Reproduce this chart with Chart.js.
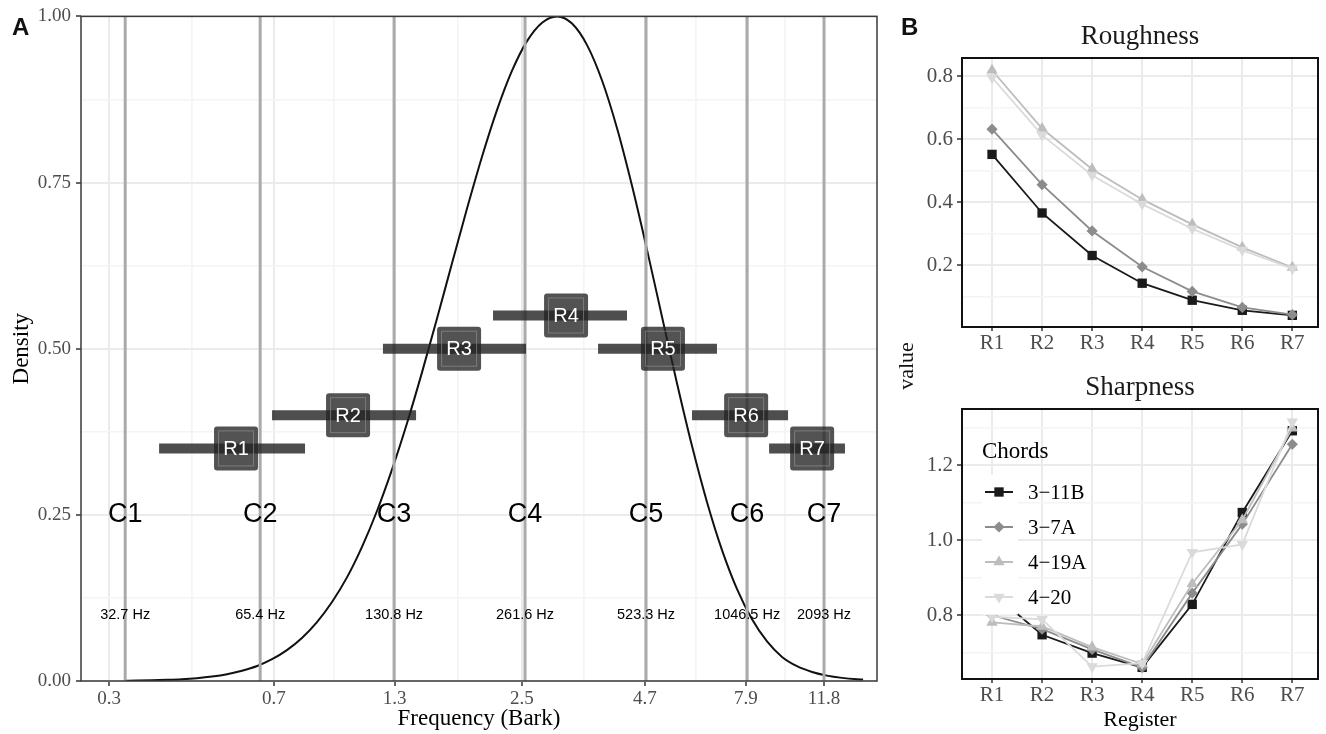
<!DOCTYPE html>
<html><head><meta charset="utf-8">
<script src="https://cdn.jsdelivr.net/npm/chart.js@4"></script>
<style>
body{margin:0;background:#fff;width:1326px;height:734px;overflow:hidden;position:relative;}
canvas{position:absolute;}
#cA{left:0;top:0;width:890px;height:734px;}
#cR{left:890px;top:0;width:436px;height:367px;}
#cS{left:890px;top:367px;width:436px;height:367px;}
.pl{position:absolute;font-family:'Liberation Sans',Arial,sans-serif;font-weight:bold;font-size:24px;line-height:1;color:#111;}
#val{position:absolute;left:906px;top:366px;transform:translate(-50%,-50%) rotate(-90deg);font-family:'Liberation Serif',serif;font-size:22px;line-height:1;color:#111;white-space:nowrap;}
</style></head><body>
<canvas id="cA" width="890" height="734"></canvas>
<canvas id="cR" width="436" height="367"></canvas>
<canvas id="cS" width="436" height="367"></canvas>
<div class="pl" style="left:12px;top:15px;">A</div>
<div class="pl" style="left:901px;top:15px;">B</div>
<div id="val">value</div>
<script>
// ---------------- Panel A data ----------------
const curveBark = [0.326,0.346,0.374,0.404,0.436,0.471,0.509,0.550,0.594,0.642,0.693,0.748,0.808,0.873,0.943,1.019,1.100,1.188,1.283,1.386,1.497,1.617,1.747,1.887,2.038,2.201,2.377,2.567,2.773,2.995,3.235,3.494,3.774,4.076,4.402,4.755,5.136,5.547,5.991,6.471,6.989,7.549,8.153,8.806,9.511,10.27,11.10,11.98,12.94,13.98,14.42];
const curveDensity = [0.0004,0.0006,0.0010,0.0017,0.0027,0.0043,0.0067,0.0102,0.0154,0.0226,0.0328,0.0465,0.0648,0.0886,0.1188,0.1563,0.2019,0.2558,0.3180,0.3879,0.4644,0.5455,0.6288,0.7112,0.7892,0.8594,0.9183,0.9628,0.9906,1.0000,0.9892,0.9568,0.9035,0.8317,0.7451,0.6487,0.5478,0.4477,0.3535,0.2690,0.1969,0.1382,0.0928,0.0595,0.0362,0.0223,0.0136,0.0081,0.0047,0.0026,0.0021];

const cLabels = ['C1','C2','C3','C4','C5','C6','C7'];
const cBark = [0.326,0.652,1.297,2.541,4.73,7.95,11.80];
const cHz = ['32.7 Hz','65.4 Hz','130.8 Hz','261.6 Hz','523.3 Hz','1046.5 Hz','2093 Hz'];
const cLabelLevel = 0.25;
const cHzLevel = 0.10;

const regLabels = ['R1','R2','R3','R4','R5','R6','R7'];
const regLow  = [0.388,0.693,1.225,2.156,3.697,5.99,8.90];
const regHigh = [0.821,1.452,2.554,4.29,6.81,9.81,13.14];
const regMid  = [0.576,1.024,1.811,3.137,5.16,7.91,11.10];
const regLevel = [0.35,0.40,0.50,0.55,0.50,0.40,0.35];

const xMajorA = [0.3,0.7,1.3,2.5,4.7,7.9,11.8];
const xMajorLabelsA = ['0.3','0.7','1.3','2.5','4.7','7.9','11.8'];
const xMinorA = [0.458,0.954,1.803,3.428,6.094,9.655];
const yMajorA = [0,0.25,0.5,0.75,1];
const yMajorLabelsA = ['0.00','0.25','0.50','0.75','1.00'];
const yMinorA = [0.125,0.375,0.625,0.875];

// ---------------- Panel B data ----------------
const registers = ['R1','R2','R3','R4','R5','R6','R7'];
const chordNames = ['3\u221211B','3\u22127A','4\u221219A','4\u221220'];
const rough3_11B = [0.552,0.366,0.231,0.143,0.089,0.057,0.041];
const rough3_7A  = [0.632,0.456,0.309,0.195,0.117,0.066,0.043];
const rough4_19A = [0.819,0.634,0.505,0.409,0.330,0.257,0.193];
const rough4_20  = [0.796,0.613,0.486,0.394,0.316,0.248,0.189];
const sharp3_11B = [0.860,0.748,0.699,0.661,0.829,1.074,1.292];
const sharp3_7A  = [0.800,0.763,0.709,0.661,0.859,1.043,1.256];
const sharp4_19A = [0.781,0.770,0.715,0.670,0.884,1.054,1.299];
const sharp4_20  = [0.796,0.789,0.663,0.672,0.968,0.989,1.316];
const roughMajor = [0.2,0.4,0.6,0.8], roughMajorLabels = ['0.2','0.4','0.6','0.8'], roughMinor = [0.1,0.3,0.5,0.7];
const sharpMajor = [0.8,1.0,1.2], sharpMajorLabels = ['0.8','1.0','1.2'], sharpMinor = [0.7,0.9,1.1,1.3];

const chordColors = ['#1a1a1a','#8c8c8c','#bdbdbd','#dadada'];
const chordStyles = ['rect','rectRot','triangle','triangle'];
const chordRot = [0,0,0,180];
const chordRadius = [6.6,5.6,6.6,6.6];

// ---------------- helpers ----------------
const SERIF = "'Liberation Serif', 'Times New Roman', serif";
const SANS = "'Liberation Sans', Arial, sans-serif";
const near = (arr, v) => arr.some(a => Math.abs(a - v) < 1e-6);
const MAJ = '#ebebeb', MIN = '#f4f4f4';

function borderPlugin(color, width){
  return {id:'border'+Math.random(), afterDatasetsDraw(chart){
    const {ctx, chartArea:a} = chart;
    ctx.save(); ctx.strokeStyle = color; ctx.lineWidth = width;
    ctx.strokeRect(a.left, a.top, a.right - a.left, a.bottom - a.top);
    ctx.restore();
  }};
}

// ---------------- Panel A chart ----------------
const datasetsA = [];
datasetsA.push({type:'line', data: curveBark.map((b,i)=>({x:b,y:curveDensity[i]})), borderColor:'#111', borderWidth:2,
  pointRadius:0, cubicInterpolationMode:'monotone', order:10});
cBark.forEach((b,i)=>{
  datasetsA.push({type:'line', data:[{x:b,y:0},{x:b,y:1}], borderColor:'#aaaaaa', borderWidth:3, pointRadius:0, order:5});
});
regLow.forEach((lo,i)=>{
  datasetsA.push({type:'line', data:[{x:lo,y:regLevel[i]},{x:regHigh[i],y:regLevel[i]}], borderColor:'rgba(34,34,34,0.8)',
    borderWidth:10, borderCapStyle:'butt', pointRadius:0, order:1});
});

const annotA = {id:'annotA', afterDatasetsDraw(chart){
  const ctx = chart.ctx, xs = chart.scales.x, ys = chart.scales.y;
  ctx.save();
  ctx.textAlign = 'center'; ctx.textBaseline = 'middle'; ctx.fillStyle = '#000';
  ctx.font = '27px ' + SANS;
  cLabels.forEach((t,i)=> ctx.fillText(t, xs.getPixelForValue(cBark[i]), ys.getPixelForValue(cLabelLevel)));
  ctx.font = '14.5px ' + SANS;
  cHz.forEach((t,i)=> ctx.fillText(t, xs.getPixelForValue(cBark[i]), ys.getPixelForValue(cHzLevel)));
  regLabels.forEach((t,i)=>{
    const cx = xs.getPixelForValue(regMid[i]), cy = ys.getPixelForValue(regLevel[i]);
    const s = 44;
    ctx.beginPath();
    ctx.roundRect(cx - s/2, cy - s/2, s, s, 3);
    ctx.fillStyle = 'rgba(34,34,34,0.78)'; ctx.fill();
    ctx.strokeStyle = 'rgba(150,150,150,0.6)'; ctx.lineWidth = 1;
    ctx.strokeRect(cx - s/2 + 4.5, cy - s/2 + 4.5, s - 9, s - 9);
    ctx.fillStyle = '#fff'; ctx.font = '20px ' + SANS;
    ctx.fillText(t, cx, cy + 1);
  });
  ctx.restore();
}};

new Chart(document.getElementById('cA'), {
  data:{datasets:datasetsA},
  options:{
    responsive:false, animation:false, devicePixelRatio:1,
    layout:{padding:{left:0,top:16,right:13,bottom:0}},
    plugins:{legend:{display:false}, tooltip:{enabled:false}},
    scales:{
      x:{type:'logarithmic', min:0.2598, max:15.49,
        afterBuildTicks(s){ s.ticks = xMajorA.concat(xMinorA).sort((a,b)=>a-b).map(v=>({value:v})); },
        afterFit(s){ s.height = 53; },
        ticks:{autoSkip:false, maxRotation:0, padding:2, color:'#4d4d4d', font:{family:SERIF,size:19},
          callback(v){ const k = xMajorA.findIndex(a=>Math.abs(a-v)<1e-6); return k>=0 ? xMajorLabelsA[k] : ''; }},
        grid:{color:c=>near(xMajorA,c.tick.value)?MAJ:MIN, lineWidth:c=>near(xMajorA,c.tick.value)?2:1.6,
          tickColor:c=>near(xMajorA,c.tick.value)?'#333':'rgba(0,0,0,0)', tickLength:5, tickWidth:1.5},
        border:{display:false},
        title:{display:true, text:'Frequency (Bark)', color:'#000', font:{family:SERIF,size:23}, padding:{top:0,bottom:1}}
      },
      y:{type:'linear', min:0, max:1,
        afterBuildTicks(s){ s.ticks = yMajorA.concat(yMinorA).sort((a,b)=>a-b).map(v=>({value:v})); },
        afterFit(s){ s.width = 81; },
        ticks:{autoSkip:false, padding:5, color:'#4d4d4d', font:{family:SERIF,size:19},
          callback(v){ const k = yMajorA.findIndex(a=>Math.abs(a-v)<1e-6); return k>=0 ? yMajorLabelsA[k] : ''; }},
        grid:{color:c=>near(yMajorA,c.tick.value)?MAJ:MIN, lineWidth:c=>near(yMajorA,c.tick.value)?2:1.6,
          tickColor:c=>near(yMajorA,c.tick.value)?'#333':'rgba(0,0,0,0)', tickLength:5, tickWidth:1.5},
        border:{display:false},
        title:{display:true, text:'Density', color:'#000', font:{family:SERIF,size:23}, padding:{top:8,bottom:0}}
      }
    }
  },
  plugins:[annotA, borderPlugin('#3a3a3a',1.5)]
});

// ---------------- Panel B charts ----------------
function makeB(id, series, yMin, yMax, maj, majLab, minr, padTop, xH, title, titleY, xTitle, legend){
  const ds = series.map((vals,k)=>({type:'line', label:chordNames[k],
    data: vals.map((v,i)=>({x:i+1,y:v})), borderColor:chordColors[k], borderWidth:1.8,
    pointStyle:chordStyles[k], pointRotation:chordRot[k], pointRadius:chordRadius[k],
    pointBackgroundColor:chordColors[k], pointBorderWidth:0, tension:0, order:4-k}));
  const titlePlug = {id:'t'+id, afterDatasetsDraw(chart){
    const {ctx, chartArea:a} = chart;
    ctx.save(); ctx.font = '27px ' + SERIF; ctx.fillStyle = '#1a1a1a'; ctx.textAlign='center'; ctx.textBaseline='middle';
    ctx.fillText(title, (a.left + a.right)/2, titleY); ctx.restore();
  }};
  const legendPlug = {id:'l'+id, afterDatasetsDraw(chart){
    if(!legend) return;
    const ctx = chart.ctx;
    ctx.save();
    ctx.fillStyle='#000'; ctx.font = '23px ' + SERIF; ctx.textAlign='left'; ctx.textBaseline='middle';
    ctx.fillText('Chords', 92, 85);
    chordNames.forEach((n,k)=>{
      const cy = 125 + 35*k;
      ctx.fillStyle = '#fff'; ctx.fillRect(92, cy - 17.5, 36, 35);
      ctx.strokeStyle = chordColors[k]; ctx.lineWidth = 2;
      ctx.beginPath(); ctx.moveTo(95, cy); ctx.lineTo(123, cy); ctx.stroke();
      ctx.fillStyle = chordColors[k];
      Chart.helpers.drawPoint(ctx, {pointStyle:chordStyles[k], rotation:chordRot[k], radius:chordRadius[k], borderWidth:0}, 109, cy);
      ctx.fillStyle = '#000'; ctx.font = '21px ' + SERIF;
      ctx.fillText(n, 138, cy + 1);
    });
    ctx.restore();
  }};
  new Chart(document.getElementById(id), {
    data:{datasets:ds},
    options:{
      responsive:false, animation:false, devicePixelRatio:1,
      layout:{padding:{left:0,top:padTop,right:8,bottom:0}},
      plugins:{legend:{display:false}, tooltip:{enabled:false}},
      scales:{
        x:{type:'linear', min:0.4, max:7.513,
          afterBuildTicks(s){ s.ticks = registers.map((r,i)=>({value:i+1})); },
          afterFit(s){ s.height = xH; },
          ticks:{autoSkip:false, maxRotation:0, padding:0, color:'#4d4d4d', font:{family:SERIF,size:21},
            callback(v){ return registers[Math.round(v)-1]; }},
          grid:{color:MAJ, lineWidth:2, tickColor:'#333', tickLength:4, tickWidth:1.5},
          border:{display:false},
          title:{display:!!xTitle, text:xTitle||'', color:'#000', font:{family:SERIF,size:22}, padding:{top:0,bottom:1}}
        },
        y:{type:'linear', min:yMin, max:yMax,
          afterBuildTicks(s){ s.ticks = maj.concat(minr).sort((a,b)=>a-b).map(v=>({value:v})); },
          afterFit(s){ s.width = 72; },
          ticks:{autoSkip:false, padding:4, color:'#4d4d4d', font:{family:SERIF,size:21},
            callback(v){ const k = maj.findIndex(a=>Math.abs(a-v)<1e-6); return k>=0 ? majLab[k] : ''; }},
          grid:{color:c=>near(maj,c.tick.value)?MAJ:MIN, lineWidth:c=>near(maj,c.tick.value)?2:1.6,
            tickColor:c=>near(maj,c.tick.value)?'#333':'rgba(0,0,0,0)', tickLength:5, tickWidth:1.5},
          border:{display:false}
        }
      }
    },
    plugins:[legendPlug, titlePlug, borderPlugin('#111',2)]
  });
}

makeB('cR', [rough3_11B, rough3_7A, rough4_19A, rough4_20], 0.004, 0.858, roughMajor, roughMajorLabels, roughMinor,
  58, 40, 'Roughness', 36.5, null, false);
makeB('cS', [sharp3_11B, sharp3_7A, sharp4_19A, sharp4_20], 0.630, 1.350, sharpMajor, sharpMajorLabels, sharpMinor,
  42, 55, 'Sharpness', 21, 'Register', true);
</script>
</body></html>
